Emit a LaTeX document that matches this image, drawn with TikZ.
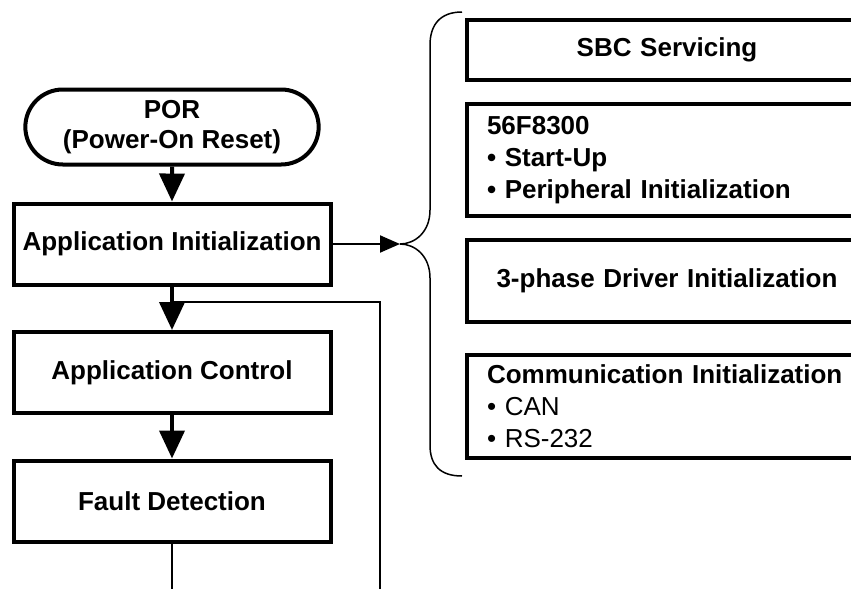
\documentclass[tikz,border=0pt]{standalone}
\usepackage{fontspec}
\setmainfont{Liberation Sans}
\usetikzlibrary{shapes.misc, arrows.meta, positioning}

\begin{document}
\begin{tikzpicture}[
    x=1pt, y=-1pt,
    node distance=43.5pt,
    font=\fontsize{26}{30}\selectfont\bfseries,
    box/.style={rectangle, draw, line width=4pt, minimum width=317pt,
                minimum height=81pt, text centered},
    start/.style={rounded rectangle, draw, line width=4pt, minimum width=300pt,
                  minimum height=75pt, align=center},
    task/.style={rectangle, draw, line width=4pt, text width=360pt,
                 inner xsep=20pt, font=\fontsize{26}{32}\selectfont\bfseries},
    arrow/.style={-{Triangle[length=28pt, width=25pt]}, line width=4pt},
    wire/.style={line width=2pt}
]
\clip (0,0) rectangle (851,589);

% main flow
\node[box] (init) at (172,244) {Application Initialization};
\node[start, above=35pt of init] (por) {POR\\(Power-On Reset)};
\node[box, below=of init] (control) {Application Control};
\node[box, below=of control] (fault) {Fault Detection};

% initialization steps
\node[task, align=center, minimum height=60pt] (sbc) at (667,50) {SBC Servicing};
\node[task, align=left, minimum height=112pt, below=20pt of sbc] (mcu)
    {56F8300\\\textbullet{} Start-Up\\\textbullet{} Peripheral Initialization};
\node[task, align=center, minimum height=82pt, below=20pt of mcu] (driver)
    {3-phase Driver Initialization};
\node[task, align=left, minimum height=103pt, below=29pt of driver] (comm)
    {Communication Initialization\\{\mdseries\textbullet{} CAN}\\{\mdseries\textbullet{} RS-232}};

\coordinate (tip) at (400,244);
\coordinate (join) at (172,302);
\coordinate (loopend) at (380,589);
\coordinate (faultend) at (fault.south |- loopend);

% loop back
\draw[wire] (loopend) |- (join);
\draw[wire] (fault) -- (faultend);

\draw[arrow] (por) -- (init);
\draw[arrow] (init) -- (control);
\draw[arrow] (control) -- (fault);
\draw[wire, -{Triangle[length=20pt, width=17pt]}] (init) -- (tip);

% brace
\draw[line width=1.5pt] (462,12) .. controls (440,12) and (430,25) .. (430,45)
    -- (430,210) .. controls (430,232) and (415,244) .. (tip)
    .. controls (415,244) and (430,256) .. (430,278)
    -- (430,445) .. controls (430,465) and (440,476) .. (462,476);
\end{tikzpicture}
\end{document}
